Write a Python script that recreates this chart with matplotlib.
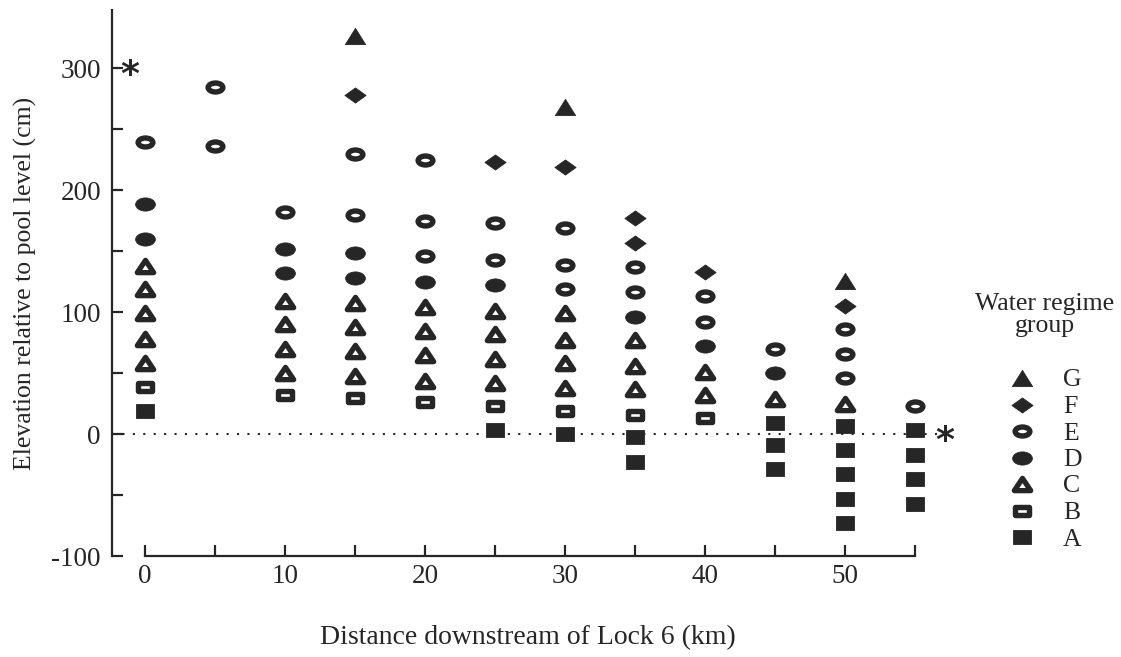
import matplotlib
matplotlib.use("Agg")
import matplotlib.pyplot as plt
from matplotlib.lines import Line2D
from matplotlib.path import Path
from matplotlib.ticker import MultipleLocator

plt.rcParams["font.family"] = ["Liberation Serif", "DejaVu Serif"]

# water regime groups (distance km, elevation cm)
groups = ["G", "F", "E", "D", "C", "B", "A"]

g_x = [15, 30, 50]
g_y = [327, 268, 126]

f_x = [15, 25, 30, 35, 35, 40, 50]
f_y = [278, 223, 219, 177, 157, 133, 105]

e_x = [0, 5, 5, 10, 15, 15, 20, 20, 20, 25, 25, 30, 30, 30, 35, 35, 40, 40, 45, 50, 50, 50, 55]
e_y = [240, 285, 236, 182, 230, 180, 225, 175, 146, 173, 143, 169, 139, 119, 137, 117,
       113, 92, 70, 86, 66, 46, 23]

d_x = [0, 0, 10, 10, 15, 15, 20, 25, 35, 40, 45]
d_y = [189, 160, 152, 132, 149, 128, 125, 122, 96, 72, 50]

c_x = [0, 0, 0, 0, 0, 10, 10, 10, 10, 15, 15, 15, 15, 20, 20, 20, 20,
       25, 25, 25, 25, 30, 30, 30, 30, 35, 35, 35, 40, 40, 45, 50]
c_y = [138, 119, 99, 78, 58, 109, 90, 70, 50, 108, 88, 68, 48, 104, 85, 65, 44,
       101, 82, 62, 42, 99, 77, 58, 38, 77, 56, 37, 51, 32, 29, 25]

b_x = [0, 10, 15, 20, 25, 30, 35, 40]
b_y = [39, 32, 30, 26, 23, 19, 16, 13]

a_x = [0, 25, 30, 35, 35, 45, 45, 45, 50, 50, 50, 50, 50, 55, 55, 55, 55]
a_y = [19, 3, 0, -2, -23, 9, -9, -29, 7, -13, -33, -53, -73, 3, -17, -37, -57]

data = {"G": (g_x, g_y), "F": (f_x, f_y), "E": (e_x, e_y), "D": (d_x, d_y),
        "C": (c_x, c_y), "B": (b_x, b_y), "A": (a_x, a_y)}

# custom wide marker shapes
circ = Path.unit_circle()
ring = Path(circ.vertices * [1.65, 1.0], circ.codes)
blob = Path(circ.vertices * [1.5, 1.0], circ.codes)
diamond = Path([(0, 1), (1.4, 0), (0, -1), (-1.4, 0), (0, 1)], closed=True)
tri_solid = Path([(0, 0.8), (1.0, -0.8), (-1.0, -0.8), (0, 0.8)], closed=True)
tri_open = Path([(0, 0.75), (1.0, -0.75), (-1.0, -0.75), (0, 0.75)], closed=True)
box_open = Path([(-1.6, -1), (1.6, -1), (1.6, 1), (-1.6, 1), (-1.6, -1)], closed=True)
box_solid = Path([(-1.27, -1), (1.27, -1), (1.27, 1), (-1.27, 1), (-1.27, -1)], closed=True)

INK = "#262626"
styles = {
    "G": dict(marker=tri_solid, markersize=14.6, mfc=INK, mec=INK, mew=0.6),
    "F": dict(marker=diamond, markersize=15.2, mfc=INK, mec=INK, mew=0.6),
    "E": dict(marker=ring, markersize=10.6, mfc="white", mec=INK, mew=3.9),
    "D": dict(marker=blob, markersize=14.2, mfc=INK, mec=INK, mew=0.6),
    "C": dict(marker=tri_open, markersize=11.8, mfc="white", mec=INK, mew=3.8),
    "B": dict(marker=box_open, markersize=9.9, mfc="white", mec=INK, mew=3.9),
    "A": dict(marker=box_solid, markersize=13.4, mfc=INK, mec=INK, mew=0.6),
}

fig = plt.figure(figsize=(11.21, 6.57), dpi=100)
ax = fig.add_axes([0.0999, 0.1537, 0.7414, 0.8311])

for g in groups:
    xs, ys = data[g]
    ax.plot(xs, ys, linestyle="none", **styles[g])

# pool level
ax.plot([-2.36, 56.6], [0, 0], color=INK, linestyle=(0, (1, 4)), linewidth=1.5,
        zorder=0, clip_on=False)
for sx, sy in [(-1.1, 300), (57.1, 0)]:
    ax.annotate("*", xy=(sx, sy), xytext=(0, -12), textcoords="offset points",
                fontsize=26, fontweight="bold", ha="center", va="baseline", color=INK,
                family=["DejaVu Sans"], annotation_clip=False)

ax.set_xlim(-2.36, 57)
ax.set_ylim(-100, 348)
for side in ("top", "right"):
    ax.spines[side].set_visible(False)
ax.spines["bottom"].set_bounds(0, 55)
for side in ("left", "bottom"):
    ax.spines[side].set_linewidth(1.6)
    ax.spines[side].set_color(INK)

ax.xaxis.set_major_locator(MultipleLocator(10))
ax.xaxis.set_minor_locator(MultipleLocator(5))
ax.yaxis.set_major_locator(MultipleLocator(100))
ax.yaxis.set_minor_locator(MultipleLocator(50))
ax.tick_params(which="both", direction="in", length=8, width=1.6, color=INK)
ax.tick_params(axis="x", which="major", pad=6, labelsize=19.5, labelcolor=INK)
ax.tick_params(axis="y", which="major", pad=8, labelsize=19.5, labelcolor=INK)
ax.set_yticks([-100, 0, 100, 200, 300])
ax.set_yticklabels(["-100", "0", "100", "200", "300"])

ax.set_xlabel("Distance downstream of Lock 6 (km)", fontsize=20, labelpad=26, color=INK)
ax.set_ylabel("Elevation relative to pool level (cm)", fontsize=18.5, labelpad=10, color=INK)

# legend, drawn by hand in figure coordinates
fig.text(1045 / 1121, 1 - 315 / 657, "Water regime\ngroup", fontsize=18.5, ha="center",
         va="center", multialignment="center", linespacing=0.95, color=INK)
for i, g in enumerate(groups):
    yy = 1 - (378 + 26.5 * i) / 657
    fig.add_artist(Line2D([1022 / 1121], [yy], linestyle="none",
                          transform=fig.transFigure, **styles[g]))
    fig.text(1063 / 1121, yy, g, fontsize=18.5, ha="left", va="center_baseline", color=INK)

fig.savefig("out.png", dpi=100)
